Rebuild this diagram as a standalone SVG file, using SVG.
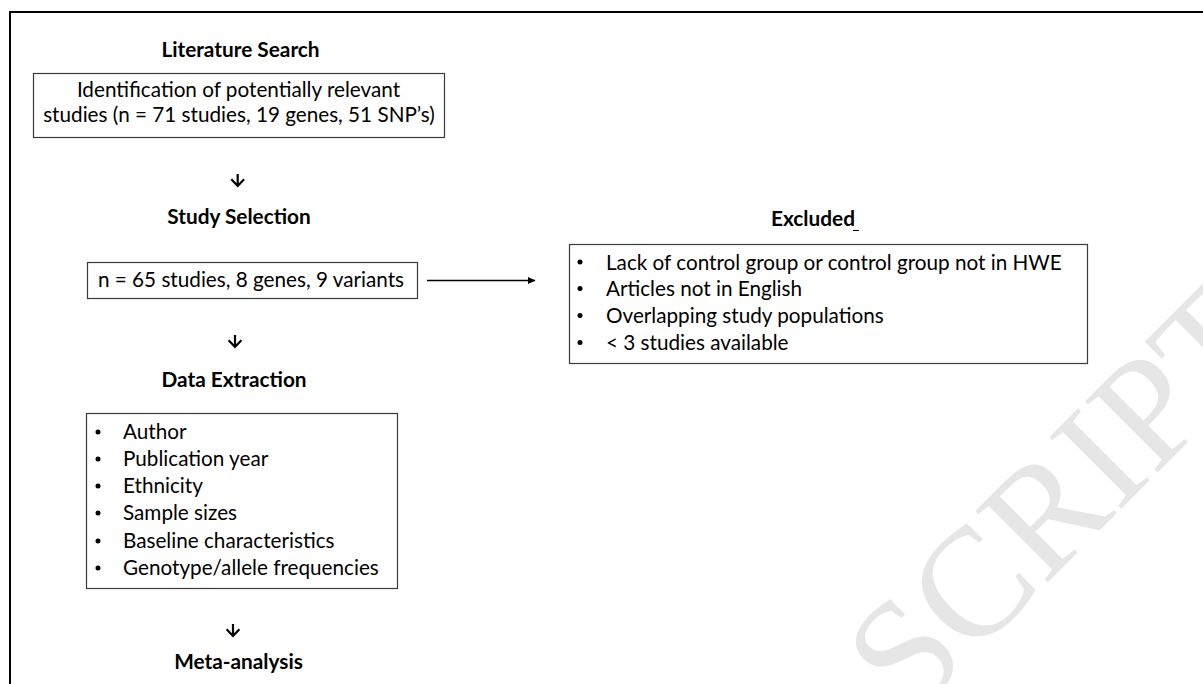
<svg xmlns="http://www.w3.org/2000/svg" width="1203" height="684" viewBox="0 0 1203 684">
<style>
.t{font-family:Lato,"Liberation Sans",sans-serif;font-size:20.7px;fill:#000}
.h{font-family:Lato,"Liberation Sans",sans-serif;font-size:20.8px;font-weight:bold;fill:#000}
.box{fill:#fff;stroke:#3a3a3a;stroke-width:1.2}
.conn{stroke:#000;stroke-width:2.2;fill:none}
.wm{font-family:"Liberation Serif",serif;font-size:155px;fill:#e6e6e6}
</style>
<defs>
<marker id="ah" markerWidth="8" markerHeight="8" refX="7" refY="4" orient="auto" markerUnits="userSpaceOnUse">
<path d="M0,0.5 L7.5,4 L0,7.5 Z" fill="#000"/>
</marker>
</defs>
<rect width="1203" height="684" fill="#fff"/>
<text class="wm" transform="translate(910,720) rotate(-45)">SCRIPT</text>
<path d="M10,684 V12 H1203" fill="none" stroke="#000" stroke-width="2"/>

<g id="lit-search">
<text class="h" x="240.5" y="57" text-anchor="middle">Literature Search</text>
<rect class="box" x="33.5" y="73.5" width="411" height="64"/>
<text class="t" x="238.5" y="97" text-anchor="middle">Identification of potentially relevant</text>
<text class="t" x="239" y="122" text-anchor="middle">studies (n = 71 studies, 19 genes, 51 SNP’s)</text>
</g>

<g id="study-selection">
<text class="h" x="239" y="224" text-anchor="middle">Study Selection</text>
<rect class="box" x="87.5" y="262.5" width="330" height="36"/>
<text class="t" x="251" y="287" text-anchor="middle">n = 65 studies, 8 genes, 9 variants</text>
</g>

<g id="data-extraction">
<text class="h" x="234" y="387" text-anchor="middle">Data Extraction</text>
<rect class="box" x="86.5" y="413.5" width="311" height="175"/>
<circle cx="98" cy="432" r="2.5"/><text class="t" x="123" y="439">Author</text>
<circle cx="98" cy="459" r="2.5"/><text class="t" x="123" y="466">Publication year</text>
<circle cx="98" cy="486" r="2.5"/><text class="t" x="123" y="493">Ethnicity</text>
<circle cx="98" cy="513" r="2.5"/><text class="t" x="123" y="520">Sample sizes</text>
<circle cx="98" cy="541" r="2.5"/><text class="t" x="123" y="548">Baseline characteristics</text>
<circle cx="98" cy="568" r="2.5"/><text class="t" x="123" y="575">Genotype/allele frequencies</text>
</g>

<g id="meta-analysis">
<text class="h" x="238.5" y="669" text-anchor="middle">Meta-analysis</text>
</g>

<g id="excluded">
<text class="h" x="771" y="226">Excluded</text>
<line x1="853" y1="230.5" x2="859" y2="230.5" stroke="#000" stroke-width="1"/>
<rect class="box" x="569.5" y="244.5" width="518" height="119"/>
<circle cx="580" cy="262" r="2.5"/><text class="t" x="606" y="270">Lack of control group or control group not in HWE</text>
<circle cx="580" cy="288.5" r="2.5"/><text class="t" x="606" y="296">Articles not in English</text>
<circle cx="580" cy="315.5" r="2.5"/><text class="t" x="606" y="323">Overlapping study populations</text>
<circle cx="580" cy="342.5" r="2.5"/><text class="t" x="606" y="350">&lt; 3 studies available</text>
</g>

<g id="connectors">
<path class="conn" d="M237.7,174 V186 M231.3,179.3 L237.7,186 L244.1,179.3"/>
<path class="conn" d="M235,335 V347 M228.6,340.3 L235,347 L241.4,340.3"/>
<path class="conn" d="M233,624 V636 M226.6,629.3 L233,636 L239.4,629.3"/>
<line x1="427" y1="280.5" x2="535" y2="280.5" stroke="#000" stroke-width="1.5" marker-end="url(#ah)"/>
</g>
</svg>
